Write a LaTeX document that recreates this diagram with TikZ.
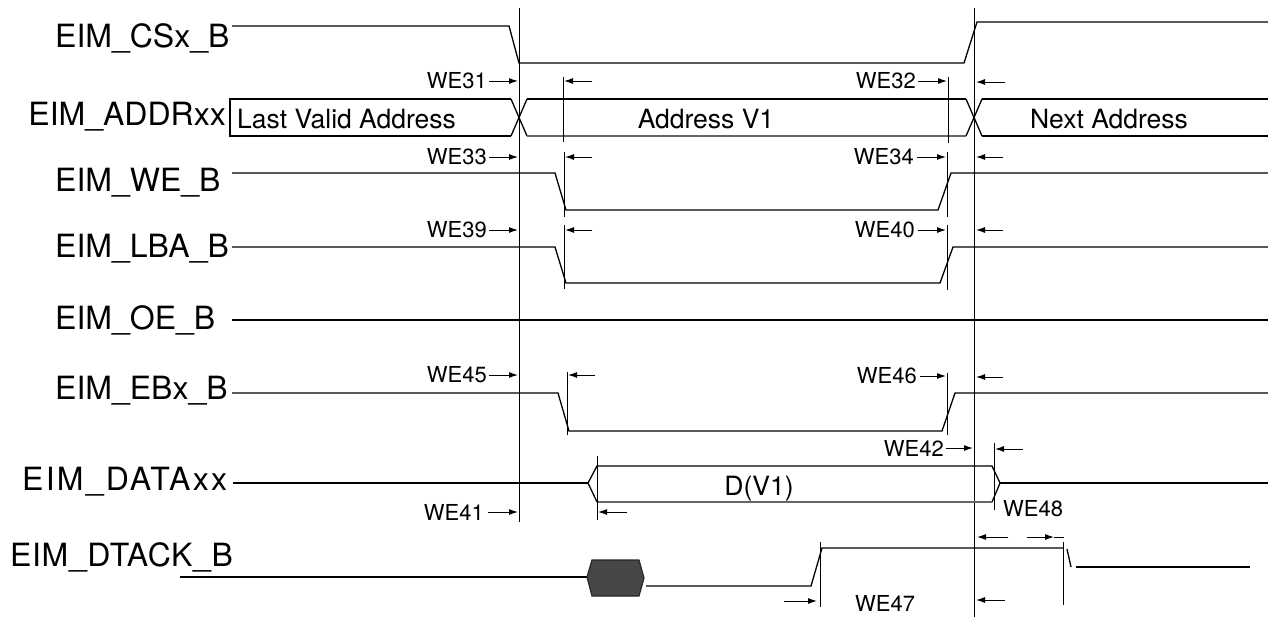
\documentclass[tikz,border=0pt]{standalone}
\usepackage{fontspec}
\setmainfont{TeX Gyre Heros}
\usetikzlibrary{arrows.meta}
\begin{document}
\begin{tikzpicture}[x=1pt,y=-1pt,
  sig/.style={line width=1.3pt},
  tick/.style={line width=1pt},
  dim/.style={line width=1pt,-{Latex[length=9pt,width=6pt]}},
  lab/.style={font=\fontsize{32}{32}\selectfont, inner sep=0pt, anchor=base west},
  wel/.style={font=\fontsize{22}{22}\selectfont, inner sep=0pt},
  boxtxt/.style={font=\fontsize{26.5}{26.5}\selectfont, inner sep=0pt},
  busline/.style={line width=1.3pt},
  busgray/.style={line width=1.6pt, draw=black!60}
]
\useasboundingbox (0,0) rectangle (1268,619);

% signal labels
\node[lab] (lcs) at (55,47) {EIM\_CSx\_B};
\node[lab,anchor=base east] (lad) at (226,125) {EIM\_ADDRxx};
\node[lab] (lwe) at (55,191) {EIM\_WE\_B};
\node[lab] (llba) at (55,257) {EIM\_LBA\_B};
\node[lab] (loe) at (55,329) {EIM\_OE\_B};
\node[lab] (leb) at (55,399) {EIM\_EBx\_B};
\node[lab] (ldata) at (22,490) {\addfontfeature{LetterSpace=7}EIM\_DATAxx};
\node[lab] (ldt) at (10,566) {\addfontfeature{LetterSpace=2}EIM\_DTACK\_B};

% long vertical reference lines
\draw[tick] (519,8) -- (519,522);
\draw[tick] (974,8) -- (974,617);

% CSx
\draw[sig] (232,26) -- (509,26) -- (519,63) -- (964,63) -- (977,22) -- (1268,22);

% ADDR bus
\draw[busline] (511,99) -- (230,99) -- (230,136) -- (511,136);
\draw[busline] (511,99) -- (527,136);
\draw[busline] (511,136) -- (527,99);
\draw[busline] (527,99) -- (966,99);
\draw[busgray] (527,136) -- (966,136);
\draw[busline] (966,99) -- (982,136);
\draw[busline] (966,136) -- (982,99);
\draw[busline] (982,99) -- (1268,99);
\draw[busline] (982,136) -- (1268,136);
\node[boxtxt,anchor=base west] (tlast) at (237,128) {Last Valid Address};
\node[boxtxt,anchor=base] (tav1) at (706,128) {Address V1};
\node[boxtxt,anchor=base] (tnext) at (1109,128) {Next Address};

% row 1 timing (WE31/WE32)
\draw[tick] (563,77) -- (563,142);
\draw[tick] (948,77) -- (948,143);
\node[wel,anchor=east] (we31) at (487,81) {WE31};
\draw[dim] (489,81) -- (518,81);
\draw[dim] (592,81) -- (564,81);
\node[wel,anchor=east] (we32) at (916,81) {WE32};
\draw[dim] (918,81) -- (947,81);
\draw[dim] (1005,82) -- (976,82);

% WE_B
\draw[sig] (232,173) -- (555,173) -- (566,210) -- (938,210) -- (951,173) -- (1268,173);
\draw[tick] (564,152) -- (564,217);
\draw[tick] (947,152) -- (947,217);
\node[wel,anchor=east] (we33) at (487,157) {WE33};
\draw[dim] (489,157) -- (518,157);
\draw[dim] (592,157) -- (565,157);
\node[wel,anchor=east] (we34) at (914,157) {WE34};
\draw[dim] (917,157) -- (946,157);
\draw[dim] (1003,157) -- (976,157);

% LBA_B
\draw[sig] (232,247) -- (555,247) -- (566,283) -- (940,283) -- (953,247) -- (1268,247);
\draw[tick] (564,225) -- (564,289);
\draw[tick] (947,225) -- (947,290);
\node[wel,anchor=east] (we39) at (487,230) {WE39};
\draw[dim] (489,230) -- (518,230);
\draw[dim] (592,230) -- (565,230);
\node[wel,anchor=east] (we40) at (915,230) {WE40};
\draw[dim] (918,230) -- (946,230);
\draw[dim] (1003,230) -- (976,230);

% OE_B
\draw[sig] (232,320) -- (1268,320);

% EBx_B
\draw[sig] (232,393) -- (558,393) -- (569,431) -- (942,431) -- (955,393) -- (1268,393);
\draw[tick] (567,372) -- (567,435);
\draw[tick] (947,373) -- (947,435);
\node[wel,anchor=east] (we45) at (487,375) {WE45};
\draw[dim] (489,375) -- (518,375);
\draw[dim] (595,375) -- (568,375);
\node[wel,anchor=east] (we46) at (917,376) {WE46};
\draw[dim] (920,376) -- (946,376);
\draw[dim] (1003,377) -- (976,377);

% DATA
\node[wel,anchor=east] (we42) at (944,448) {WE42};
\draw[dim] (946,448) -- (973,448);
\draw[tick] (994,443) -- (994,510);
\draw[dim] (1023,449) -- (995,449);
\draw[busline] (233,483) -- (588,483);
\draw[busline] (588,483) -- (597,466) -- (992,466) -- (1000,483) -- (992,502);
\draw[busline] (588,483) -- (597,502);
\draw[busgray] (597,502) -- (992,502);
\draw[busline] (1000,483) -- (1268,483);
\draw[tick] (597,456) -- (597,520);
\node[boxtxt,anchor=base] (tdv1) at (759,495) {D(V1)};
\node[wel,anchor=east] (we41) at (484,512) {WE41};
\draw[dim] (488,512) -- (518,512);
\draw[dim] (627,512) -- (598,512);
\node[wel,anchor=west] (we48) at (1003,509) {WE48};

% DTACK
\draw[sig] (180,577) -- (587,577);
\draw[line width=1.2pt, draw=black!85, fill=black!72] (587,577) -- (592,560) -- (639,560) -- (644,578) -- (639,596) -- (592,596) -- cycle;
\draw[sig] (646,586) -- (811,586) -- (822,548) -- (1063,548);
\draw[sig] (1067,549) -- (1071,567);
\draw[sig] (1076,567) -- (1250,567);
\draw[tick] (820,542) -- (820,607);
\draw[tick] (1063,542) -- (1063,605);
\draw[dim] (784,601) -- (817,601);
\node[wel,anchor=west] (we47) at (855,603) {WE47};
\draw[dim] (1005,600) -- (976,600);
\draw[dim] (1008,537) -- (977,537);
\draw[dim] (1027,537) -- (1054,537);
\draw[tick] (1054,537) -- (1064,537);
\end{tikzpicture}
\end{document}
